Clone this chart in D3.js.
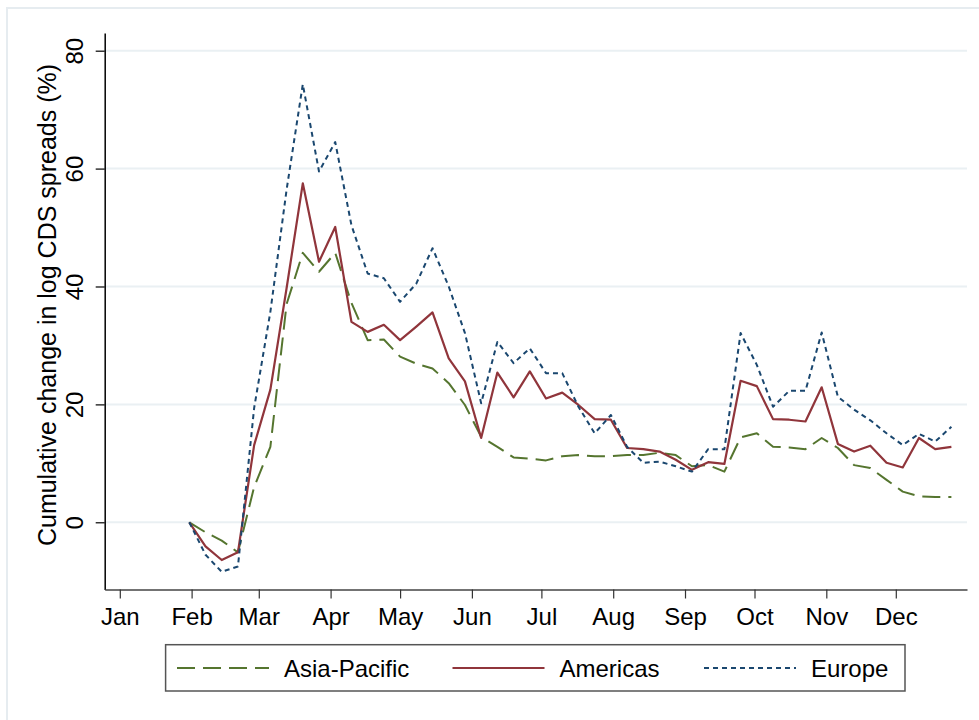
<!DOCTYPE html>
<html>
<head>
<meta charset="utf-8">
<script src="https://cdn.jsdelivr.net/npm/d3@7"></script>
<style>
  body { margin: 0; background: #fff; }
  svg { display: block; font-family: "Liberation Sans", Arial, sans-serif; }
</style>
</head>
<body>
<svg width="979" height="720"></svg>
<script>
// weekly observations (Fridays, 2020)
const weeks = [
  "2020-01-31", "2020-02-07", "2020-02-14", "2020-02-21", "2020-02-28",
  "2020-03-06", "2020-03-13", "2020-03-20", "2020-03-27",
  "2020-04-03", "2020-04-10", "2020-04-17", "2020-04-24",
  "2020-05-01", "2020-05-08", "2020-05-15", "2020-05-22", "2020-05-29",
  "2020-06-05", "2020-06-12", "2020-06-19", "2020-06-26",
  "2020-07-03", "2020-07-10", "2020-07-17", "2020-07-24", "2020-07-31",
  "2020-08-07", "2020-08-14", "2020-08-21", "2020-08-28",
  "2020-09-04", "2020-09-11", "2020-09-18", "2020-09-25",
  "2020-10-02", "2020-10-09", "2020-10-16", "2020-10-23", "2020-10-30",
  "2020-11-06", "2020-11-13", "2020-11-20", "2020-11-27",
  "2020-12-04", "2020-12-11", "2020-12-18", "2020-12-25"
];

const asiaPacific = [
  0, -1.7, -3.1, -5.1, 6, 12.8, 37, 45.7, 42.5, 45.7,
  37.2, 30.9, 31.0, 28.1, 26.9, 26.1, 23.6, 19.9, 14.5, 12.8,
  11.0, 10.8, 10.5, 11.2, 11.4, 11.2, 11.2, 11.4, 11.4, 11.8,
  11.4, 9.5, 9.7, 8.6, 14.4, 15.1, 12.8, 12.7, 12.4, 14.3,
  12.6, 9.7, 9.2, 7.2, 5.2, 4.4, 4.3, 4.3
];

const americas = [
  0, -4.1, -6.4, -5.1, 13.1, 22.5, 39.7, 57.5, 44.2, 50.1,
  34.0, 32.3, 33.5, 30.9, 33.2, 35.6, 27.8, 23.9, 14.3, 25.4,
  21.2, 25.6, 21.0, 22.0, 19.9, 17.5, 17.4, 12.6, 12.4, 12.0,
  10.6, 8.9, 10.2, 9.9, 24.0, 23.1, 17.5, 17.4, 17.1, 22.9,
  13.3, 12.0, 13.0, 10.1, 9.3, 14.3, 12.4, 12.8
];

const europe = [
  0, -5.5, -8.4, -7.5, 19.4, 35.7, 56.4, 74.3, 59.5, 64.5,
  50.4, 42.2, 41.4, 37.4, 40.5, 46.5, 40.0, 32.1, 20.2, 30.6,
  27.0, 29.5, 25.3, 25.3, 19.6, 15.1, 18.2, 12.8, 10.1, 10.3,
  9.5, 8.6, 12.4, 12.4, 32.1, 26.7, 19.6, 22.3, 22.3, 32.2,
  21.3, 19.1, 17.3, 15.1, 13.1, 15.0, 13.7, 16.2
];

const monthTicks = [
  "2020-01-01", "2020-02-01", "2020-03-01", "2020-04-01", "2020-05-01", "2020-06-01",
  "2020-07-01", "2020-08-01", "2020-09-01", "2020-10-01", "2020-11-01", "2020-12-01"
];
const monthLabels = ["Jan", "Feb", "Mar", "Apr", "May", "Jun", "Jul", "Aug", "Sep", "Oct", "Nov", "Dec"];
const yTicks = [0, 20, 40, 60, 80];

const series = [
  { name: "Asia-Pacific", values: asiaPacific, color: "#55752f", dash: "18,8" },
  { name: "Americas", values: americas, color: "#90353b", dash: null },
  { name: "Europe", values: europe, color: "#1a476f", dash: "5,4" }
];

const parse = d3.utcParse("%Y-%m-%d");
const dates = weeks.map(parse);

const svg = d3.select("svg");
const fontSize = 24;

// light outer frame
svg.append("rect")
  .attr("x", 7).attr("y", 8)
  .attr("width", 1000).attr("height", 1000)
  .attr("fill", "none")
  .attr("stroke", "#e6ecf0")
  .attr("stroke-width", 2);

const plotLeft = 104.7, plotRight = 967, plotTop = 33, plotBottom = 589.5;

// month positions: Jan 1 at 119.8, Dec 1 at 895.8, then stretched to the axis extent
const x = d3.scaleUtc()
  .domain([parse("2020-01-01"), parse("2020-12-01")])
  .range([119.8, 895.8]);
x.domain([x.invert(plotLeft), x.invert(plotRight)]).range([plotLeft, plotRight]);

const y = d3.scaleLinear().domain([-11.4, 83]).range([plotBottom, plotTop]);

// gridlines
svg.append("g")
  .selectAll("line")
  .data(yTicks)
  .join("line")
  .attr("x1", plotLeft).attr("x2", plotRight)
  .attr("y1", d => y(d)).attr("y2", d => y(d))
  .attr("stroke", "#eaf0f3")
  .attr("stroke-width", 2);

// y axis
const yAxis = svg.append("g")
  .attr("transform", `translate(${plotLeft},0)`)
  .call(d3.axisLeft(y).tickValues(yTicks).tickSize(9).tickSizeOuter(0));
yAxis.select(".domain").attr("stroke", "#000").attr("stroke-width", 1.5);
yAxis.selectAll(".tick line").attr("stroke", "#000").attr("stroke-width", 1.2);
yAxis.selectAll(".tick text")
  .attr("transform", "rotate(-90)")
  .attr("x", 0).attr("y", -21.7).attr("dy", 0)
  .attr("text-anchor", "middle")
  .attr("fill", "#000")
  .style("font-size", fontSize + "px")
  .style("font-family", "'Liberation Sans', Arial, sans-serif");

// x axis
const xAxis = svg.append("g")
  .attr("transform", `translate(0,${plotBottom})`)
  .call(d3.axisBottom(x)
    .tickValues(monthTicks.map(parse))
    .tickFormat((d, i) => monthLabels[i])
    .tickSize(9).tickSizeOuter(0));
xAxis.select(".domain").attr("stroke", "#444").attr("stroke-width", 1.5);
xAxis.selectAll(".tick line").attr("stroke", "#333").attr("stroke-width", 1.2);
xAxis.selectAll(".tick text")
  .attr("y", 35.5).attr("dy", 0)
  .attr("fill", "#000")
  .style("font-size", fontSize + "px")
  .style("font-family", "'Liberation Sans', Arial, sans-serif");

// y title
svg.append("text")
  .attr("transform", "translate(56,305) rotate(-90)")
  .attr("text-anchor", "middle")
  .style("font-size", "25px")
  .text("Cumulative change in log CDS spreads (%)");

// lines
const line = d3.line()
  .x((d, i) => x(dates[i]))
  .y(d => y(d));

svg.append("g")
  .selectAll("path")
  .data(series)
  .join("path")
  .attr("d", d => line(d.values))
  .attr("fill", "none")
  .attr("stroke", d => d.color)
  .attr("stroke-width", d => d.dash ? 2 : 2.2)
  .attr("stroke-dasharray", d => d.dash)
  .attr("stroke-linejoin", "round");

// legend
svg.append("rect")
  .attr("x", 165.6).attr("y", 644.7)
  .attr("width", 739.4).attr("height", 46.3)
  .attr("fill", "#fff")
  .attr("stroke", "#555")
  .attr("stroke-width", 1.5);

const legendX = [177, 452.5, 704];
const item = svg.append("g")
  .selectAll("g")
  .data(series)
  .join("g")
  .attr("transform", (d, i) => `translate(${legendX[i]},668)`);
item.append("line")
  .attr("x1", 0).attr("x2", 92)
  .attr("stroke", d => d.color)
  .attr("stroke-width", 2)
  .attr("stroke-dasharray", d => d.dash);
item.append("text")
  .attr("x", 107).attr("y", 9.3)
  .style("font-size", fontSize + "px")
  .text(d => d.name);
</script>
</body>
</html>
